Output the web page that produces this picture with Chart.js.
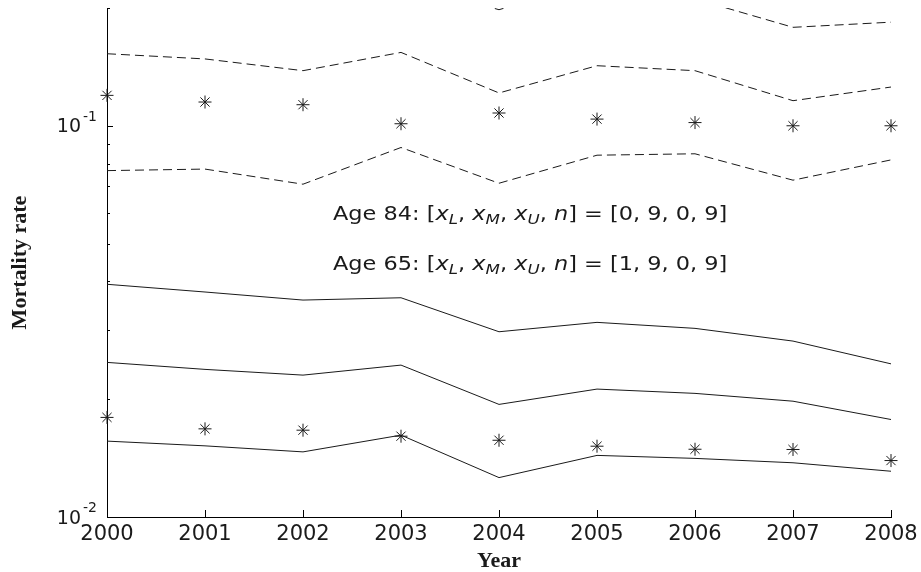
<!DOCTYPE html>
<html>
<head>
<meta charset="utf-8">
<script src="https://cdn.jsdelivr.net/npm/chart.js@4.4.1/dist/chart.umd.min.js"></script>
<style>
  html, body { margin: 0; padding: 0; background: #fff; }
  #wrap { width: 921px; height: 572px; }
</style>
</head>
<body>
<div id="wrap"><canvas id="chart"></canvas></div>
<script>
const years = ["2000", "2001", "2002", "2003", "2004", "2005", "2006", "2007", "2008"];

// age 84 (dashed lines + stars)
const age84Top = [0.24, 0.235, 0.225, 0.233, 0.198, 0.235, 0.211, 0.1785, 0.184];
const age84Upper = [0.1528, 0.1482, 0.1383, 0.154, 0.1213, 0.1424, 0.1383, 0.1159, 0.1256];
const age84Lower = [0.0768, 0.0775, 0.0709, 0.088, 0.0713, 0.0841, 0.0848, 0.0726, 0.0818];
const age84Obs = [0.1196, 0.115, 0.1132, 0.1012, 0.1078, 0.104, 0.1019, 0.1, 0.1];

// age 65 (solid lines + stars)
const age65Upper = [0.03934, 0.03759, 0.03585, 0.03634, 0.02975, 0.03144, 0.03035, 0.02816, 0.02463];
const age65Mid = [0.02484, 0.02384, 0.02305, 0.02445, 0.0194, 0.02123, 0.0207, 0.01977, 0.01775];
const age65Lower = [0.01563, 0.0152, 0.01467, 0.01619, 0.01261, 0.01437, 0.01412, 0.01376, 0.01309];
const age65Obs = [0.01797, 0.0168, 0.01667, 0.01609, 0.01571, 0.01517, 0.0149, 0.01488, 0.01394];

const yMajor = [0.01, 0.1];
const yMajorExp = ["-2", "-1"];
const yMinor = [0.02, 0.03, 0.04, 0.05, 0.06, 0.07, 0.08, 0.09, 0.2];

const noteAges = ["84", "65"];
const noteCounts = [[0, 9, 0, 9], [1, 9, 0, 9]];

const ink = "#1a1a1a";
const sans = "'DejaVu Sans', sans-serif";

function lineSet(data, dashed) {
  return {
    data,
    borderColor: ink,
    borderWidth: 1,
    borderDash: dashed ? [9, 5] : [],
    pointRadius: 0,
    tension: 0,
    fill: false
  };
}

function starSet(data) {
  return {
    data,
    showLine: false,
    pointStyle: "star",
    pointRadius: 6.5,
    pointBorderColor: ink,
    pointBackgroundColor: ink,
    pointBorderWidth: 1,
    clip: false
  };
}

// text in the reference is a bit wider than the font, so stretch it
function drawNote(ctx, x, y, age, vals) {
  const parts = [
    ["Age " + age + ": [", "n"], ["x", "i"], ["L", "s"], [", ", "n"],
    ["x", "i"], ["M", "s"], [", ", "n"], ["x", "i"], ["U", "s"], [", ", "n"],
    ["n", "i"], ["] = [" + vals.join(", ") + "]", "n"]
  ];
  ctx.save();
  ctx.translate(x, y);
  ctx.scale(1.15, 1);
  let cx = 0;
  parts.forEach(([t, k]) => {
    if (k === "n") ctx.font = "19.5px " + sans;
    else if (k === "i") ctx.font = "italic 19.5px " + sans;
    else ctx.font = "italic 14.5px " + sans;
    ctx.fillText(t, cx, k === "s" ? 4 : 0);
    cx += ctx.measureText(t).width;
  });
  ctx.restore();
}

const axisMarks = {
  id: "axisMarks",
  afterDraw(chart) {
    const { ctx, chartArea: a, scales: { x, y } } = chart;
    ctx.save();
    ctx.strokeStyle = "#000";
    ctx.lineWidth = 1;
    ctx.beginPath();
    yMinor.forEach(v => {
      const py = Math.round(y.getPixelForValue(v)) + 0.5;
      ctx.moveTo(a.left, py);
      ctx.lineTo(a.left + 3, py);
    });
    yMajor.forEach(v => {
      const py = Math.round(y.getPixelForValue(v)) + 0.5;
      ctx.moveTo(a.left, py);
      ctx.lineTo(a.left + 6, py);
    });
    years.forEach((_, i) => {
      const px = Math.round(x.getPixelForTick(i)) + 0.5;
      ctx.moveTo(px, a.bottom);
      ctx.lineTo(px, a.bottom - 7);
    });
    ctx.stroke();

    // y tick labels with superscript
    ctx.fillStyle = ink;
    ctx.textAlign = "left";
    ctx.textBaseline = "alphabetic";
    yMajor.forEach((v, i) => {
      const py = y.getPixelForValue(v);
      const right = a.left - 10;
      ctx.font = "14px " + sans;
      const w2 = ctx.measureText(yMajorExp[i]).width;
      ctx.fillText(yMajorExp[i], right - w2, py - 5);
      ctx.font = "19px " + sans;
      const w1 = ctx.measureText("10").width;
      ctx.fillText("10", right - w2 - 2 - w1, py + 6.5);
    });

    drawNote(ctx, 333, 219.5, noteAges[0], noteCounts[0]);
    drawNote(ctx, 333, 270, noteAges[1], noteCounts[1]);
    ctx.restore();
  }
};

new Chart(document.getElementById("chart"), {
  type: "line",
  data: {
    labels: years,
    datasets: [
      lineSet(age84Top, true),
      lineSet(age84Upper, true),
      lineSet(age84Lower, true),
      starSet(age84Obs),
      lineSet(age65Upper, false),
      lineSet(age65Mid, false),
      lineSet(age65Lower, false),
      starSet(age65Obs)
    ]
  },
  options: {
    responsive: true,
    maintainAspectRatio: false,
    animation: false,
    devicePixelRatio: 1,
    layout: { padding: { left: 0, top: 8, right: 30, bottom: 0 } },
    plugins: { legend: { display: false }, tooltip: { enabled: false } },
    scales: {
      x: {
        type: "category",
        offset: false,
        grid: { display: false, drawTicks: false },
        border: { display: true, color: "#000", width: 1 },
        ticks: { color: ink, font: { family: sans, size: 21, lineHeight: 1 }, padding: 7, maxRotation: 0, autoSkip: false },
        title: { display: true, text: "Year", color: ink, font: { family: "'Liberation Serif', serif", size: 22, weight: "bold", lineHeight: 1 }, padding: { top: 0, bottom: 0 } },
        afterFit: s => { s.height = 55; s.paddingLeft = 0; s.paddingRight = 0; }
      },
      y: {
        type: "logarithmic",
        min: 0.01,
        max: 0.2,
        grid: { display: false, drawTicks: false },
        border: { display: true, color: "#000", width: 1 },
        ticks: { display: false },
        title: { display: true, text: "Mortality rate", color: ink, font: { family: "'Liberation Serif', serif", size: 22, weight: "bold", lineHeight: 1 }, padding: { top: 9, bottom: 0 } },
        afterFit: s => { s.width = 107; }
      }
    }
  },
  plugins: [axisMarks]
});
</script>
</body>
</html>
